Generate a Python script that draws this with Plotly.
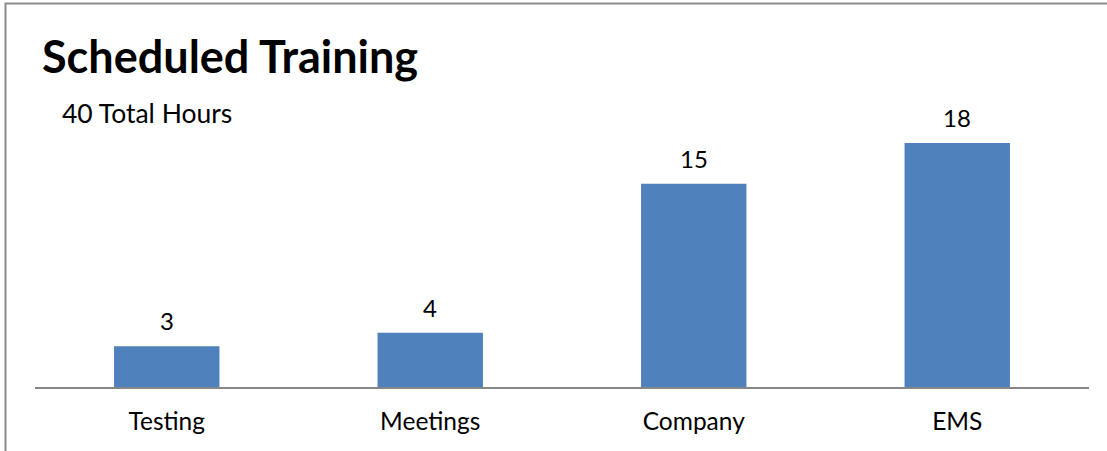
import plotly.graph_objects as go

categories = ["Testing", "Meetings", "Company", "EMS"]
hours = [3, 4, 15, 18]
title_text = "Scheduled Training"
subtitle_text = "40 Total Hours"

W, H = 1107, 451
L, R, T, B = 35, 18, 116, 64
pw, ph = W - L - R, H - T - B

def px(x):
    return (x - L) / pw

def py(y):
    return (H - B - y) / ph

FONT = "Lato"

fig = go.Figure(go.Bar(
    x=categories, y=hours,
    marker=dict(color="#4F81BD", line=dict(width=0)),
    hoverinfo="x+y",
))

value_labels = [
    dict(x=c, y=v, xref="x", yref="y", text=str(v), showarrow=False,
         xanchor="center", yanchor="bottom", yshift=9,
         font=dict(family=FONT, size=24, color="#000000"))
    for c, v in zip(categories, hours)
]

fig.update_layout(
    width=W, height=H,
    margin=dict(l=L, r=R, t=T, b=B, pad=0),
    paper_bgcolor="white", plot_bgcolor="white",
    bargap=0.6, showlegend=False,
    xaxis=dict(showline=True, linecolor="#868686", linewidth=1.5, ticks="",
               showgrid=False, ticklabelstandoff=12,
               tickfont=dict(family=FONT, size=24.5, color="#000000")),
    yaxis=dict(range=[0, 20], visible=False, showgrid=False, zeroline=False),
    shapes=[dict(type="rect", xref="paper", yref="paper",
                 x0=px(5.5), x1=px(1120), y0=py(3.5), y1=py(470),
                 line=dict(color="#8c8c8c", width=2), fillcolor="rgba(0,0,0,0)", layer="below")],
    annotations=[
        dict(text="<b>" + title_text + "</b>", xref="paper", yref="paper",
             x=px(40), y=py(55.5), xanchor="left", yanchor="middle", showarrow=False,
             font=dict(family=FONT, size=45, color="#000000")),
        dict(text=subtitle_text, xref="paper", yref="paper",
             x=px(60), y=py(112.5), xanchor="left", yanchor="middle", showarrow=False,
             font=dict(family=FONT, size=26.5, color="#000000")),
    ] + value_labels,
)

fig.write_html("out.html", config={"displayModeBar": False},
               post_script="document.body.style.margin='0';")
